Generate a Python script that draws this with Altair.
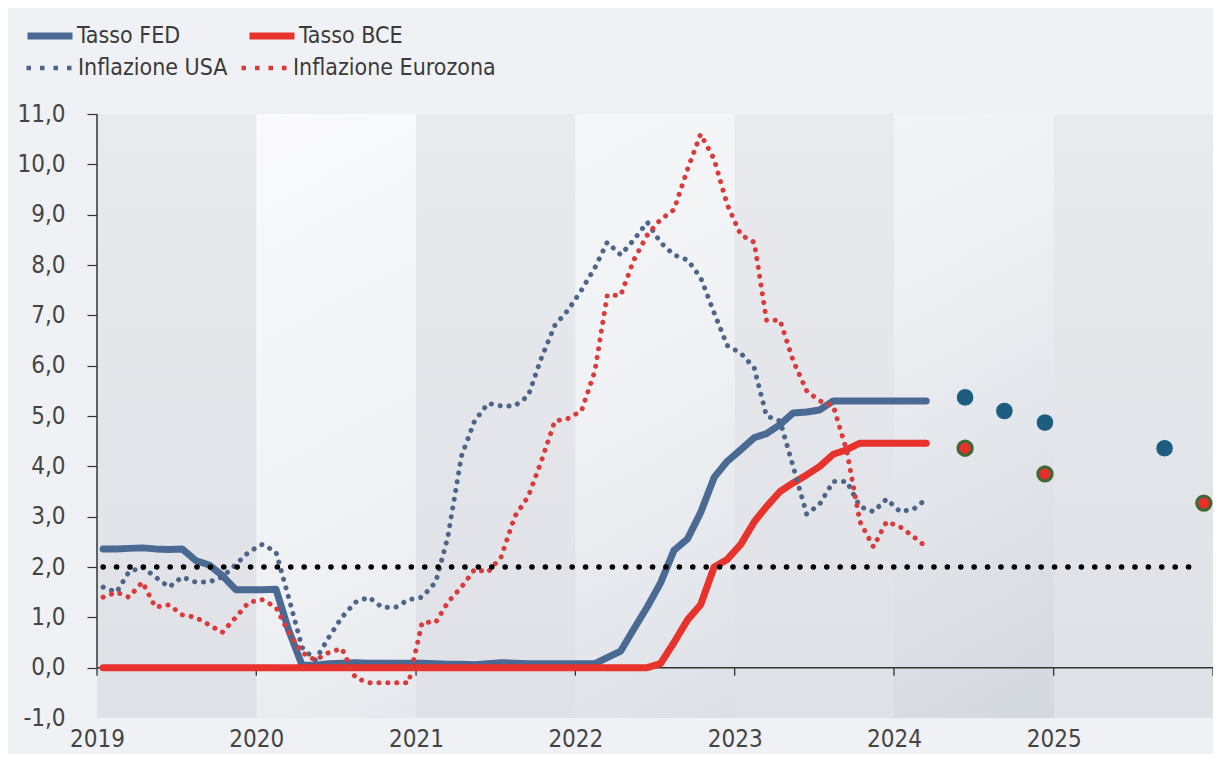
import altair as alt
import pandas as pd

FONT = "Liberation Sans Narrow, DejaVu Sans Condensed, Arial Narrow, sans-serif"

# ---------------- data (monthly, Jan 2019 - Mar 2024, plotted mid-month) ----------------
first_month = "2019-01-01"

fed_rate = [
    2.36, 2.36, 2.37, 2.38, 2.36, 2.35, 2.36, 2.13, 2.04, 1.83, 1.55, 1.55,
    1.55, 1.56, 0.75, 0.05, 0.05, 0.08, 0.09, 0.10, 0.09, 0.09, 0.09, 0.09,
    0.09, 0.08, 0.07, 0.07, 0.06, 0.08, 0.10, 0.09, 0.08, 0.08, 0.08, 0.08,
    0.08, 0.08, 0.20, 0.33, 0.77, 1.21, 1.68, 2.33, 2.56, 3.08, 3.78, 4.10,
    4.33, 4.57, 4.65, 4.83, 5.06, 5.08, 5.12, 5.30, 5.30, 5.30, 5.30, 5.30,
    5.30, 5.30, 5.30,
]
ecb_rate = [
    0.00, 0.00, 0.00, 0.00, 0.00, 0.00, 0.00, 0.00, 0.00, 0.00, 0.00, 0.00,
    0.00, 0.00, 0.00, 0.00, 0.00, 0.00, 0.00, 0.00, 0.00, 0.00, 0.00, 0.00,
    0.00, 0.00, 0.00, 0.00, 0.00, 0.00, 0.00, 0.00, 0.00, 0.00, 0.00, 0.00,
    0.00, 0.00, 0.00, 0.00, 0.00, 0.00, 0.08, 0.50, 0.95, 1.25, 2.00, 2.15,
    2.45, 2.90, 3.20, 3.50, 3.67, 3.83, 4.00, 4.24, 4.33, 4.46, 4.46, 4.46,
    4.46, 4.46, 4.46,
]
us_inflation = [
    1.60, 1.50, 1.90, 2.00, 1.80, 1.60, 1.80, 1.70, 1.70, 1.80, 2.05, 2.30,
    2.45, 2.30, 1.40, 0.40, 0.15, 0.60, 1.00, 1.30, 1.40, 1.20, 1.20, 1.35,
    1.40, 1.70, 2.60, 4.20, 4.90, 5.25, 5.20, 5.20, 5.40, 6.15, 6.80, 7.10,
    7.50, 7.95, 8.45, 8.20, 8.50, 8.85, 8.45, 8.20, 8.10, 7.75, 7.05, 6.40,
    6.25, 5.95, 5.00, 4.90, 4.00, 3.05, 3.25, 3.70, 3.70, 3.20, 3.10, 3.35,
    3.10, 3.15, 3.35,
]
ez_inflation = [
    1.40, 1.50, 1.40, 1.70, 1.20, 1.25, 1.05, 1.00, 0.85, 0.70, 1.00, 1.30,
    1.35, 1.20, 0.70, 0.30, 0.15, 0.30, 0.38, -0.20, -0.30, -0.30, -0.30, -0.30,
    0.90, 0.90, 1.30, 1.60, 1.95, 1.90, 2.20, 3.00, 3.40, 4.10, 4.90, 4.95,
    5.10, 5.90, 7.40, 7.40, 8.10, 8.60, 8.90, 9.10, 9.90, 10.60, 10.10, 9.20,
    8.60, 8.45, 6.90, 6.90, 6.10, 5.50, 5.30, 5.20, 4.30, 2.90, 2.40, 2.90,
    2.80, 2.60, 2.40,
]

# projections
fed_proj_dates = ["2024-06-12", "2024-09-10", "2024-12-12", "2025-09-12"]
fed_proj_values = [5.37, 5.10, 4.87, 4.36]
ecb_proj_dates = ["2024-06-12", "2024-12-12", "2025-12-11"]
ecb_proj_values = [4.36, 3.85, 3.27]

# inflation target line
target_value = [2.0]
target_start = ["2019-01-15"]
target_end = ["2025-11-25"]

# shaded years
band_starts = ["2019-01-01", "2021-01-01", "2023-01-01", "2025-01-01"]
band_ends = ["2020-01-01", "2022-01-01", "2024-01-01", "2026-01-01"]

year_labels = [2019, 2020, 2021, 2022, 2023, 2024, 2025]
year_ticks = ["2019-01-01", "2020-01-01", "2021-01-01", "2022-01-01", "2023-01-01",
              "2024-01-01", "2025-01-01", "2026-01-01"]
y_ticks = [-1, 0, 1, 2, 3, 4, 5, 6, 7, 8, 9, 10, 11]

rate_names = ["Tasso FED", "Tasso BCE"]
rate_colors = ["#4a6a93", "#e8322c"]
infl_names = ["Inflazione USA", "Inflazione Eurozona"]
infl_colors = ["#4d6588", "#db3a3b"]

# ---------------- tables ----------------
months = pd.date_range(start=first_month, periods=len(fed_rate), freq="MS") + pd.Timedelta(days=14)
dates = [d.strftime("%Y-%m-%d") for d in months]
df = pd.DataFrame({"date": dates, "fed": fed_rate, "ecb": ecb_rate,
                   "usa": us_inflation, "ez": ez_inflation})

df_frame = pd.DataFrame({"start": [year_ticks[0]], "end": [year_ticks[-1]],
                         "lo": [min(y_ticks)], "hi": [max(y_ticks)], "zero": [0.0]})
df_bands = pd.DataFrame({"start": band_starts, "end": band_ends})
df_ticks = pd.DataFrame({"d": year_ticks, "v": [0.0] * len(year_ticks)})
df_target = pd.DataFrame({"start": target_start, "end": target_end, "v": target_value})
df_fed_p = pd.DataFrame({"date": fed_proj_dates, "v": fed_proj_values})
df_ecb_p = pd.DataFrame({"date": ecb_proj_dates, "v": ecb_proj_values})
df_leg_rate = pd.DataFrame({"rate": rate_names, "date": [dates[0]] * 2,
                            "v": [fed_rate[0], ecb_rate[0]]})
df_leg_infl = pd.DataFrame({"infl": infl_names, "date": [dates[0]] * 2,
                            "v": [us_inflation[0], ez_inflation[0]]})

# ---------------- scales / axes ----------------
x_scale = alt.Scale(type="utc", domain=[alt.DateTime(year=2019, month=1, date=1, utc=True),
                                        alt.DateTime(year=2026, month=1, date=1, utc=True)])
y_scale = alt.Scale(domain=[min(y_ticks), max(y_ticks)], nice=False, zero=False)

x_axis = alt.Axis(
    values=[alt.DateTime(year=y, month=1, date=1, utc=True) for y in year_labels],
    format="%Y", domain=False, ticks=False, grid=False, labelFlush=False,
    labelOverlap=False, labelPadding=9, labelFontSize=24, labelFont=FONT,
    labelColor="#444444",
)
y_axis = alt.Axis(
    values=y_ticks,
    labelExpr="replace(replace(format(datum.value, '.1f'), '.', ','), '\u2212', '-')",
    domain=False, grid=False, tickSize=10, tickWidth=1.2,
    tickColor={"condition": {"test": "datum.value < 0", "value": "transparent"}, "value": "#333333"},
    labelPadding=22, labelFontSize=24, labelFont=FONT, labelColor="#444444",
    labelOverlap=False,
)


def X(field, **kw):
    return alt.X(field, scale=x_scale, axis=x_axis, title=None, **kw)


def Y(field, **kw):
    return alt.Y(field, scale=y_scale, axis=y_axis, title=None, **kw)


plot_bg = alt.LinearGradient(
    gradient="linear", x1=0, y1=0, x2=1, y2=1,
    stops=[alt.GradientStop(color="#fcfcfd", offset=0),
           alt.GradientStop(color="#eef0f3", offset=0.5),
           alt.GradientStop(color="#cfd3db", offset=1)],
)
band_fill = alt.LinearGradient(
    gradient="linear", x1=0, y1=0, x2=0, y2=1,
    stops=[alt.GradientStop(color="#e9eaee", offset=0),
           alt.GradientStop(color="#dfe1e6", offset=1)],
)

# ---------------- layers ----------------
bg = alt.Chart(df_frame).mark_rect(color=plot_bg).encode(
    x=X("start:T"), x2="end:T", y=Y("lo:Q"), y2="hi:Q",
)

bands = alt.Chart(df_bands).mark_rect(color=band_fill).encode(
    x=X("start:T"), x2="end:T",
)

zero_line = alt.Chart(df_frame).mark_rule(color="#333333", strokeWidth=1.5).encode(
    y=Y("zero:Q"),
)

y_line = alt.Chart(df_frame).mark_rule(color="#333333", strokeWidth=1.5).encode(
    x=X("start:T"), y=Y("zero:Q"), y2="hi:Q",
)

x_tick_marks = alt.Chart(df_ticks).mark_tick(
    orient="vertical", size=8, thickness=1.3, yOffset=4, color="#333333", opacity=1
).encode(x=X("d:T"), y=Y("v:Q"))


def solid(field, color):
    return alt.Chart(df).mark_line(
        color=color, strokeWidth=7, strokeCap="round", strokeJoin="round"
    ).encode(x=X("date:T"), y=Y(f"{field}:Q"))


def dotted(field, color):
    return alt.Chart(df).mark_line(
        color=color, strokeWidth=5, strokeDash=[0.1, 8.8], strokeCap="round", strokeJoin="round"
    ).encode(x=X("date:T"), y=Y(f"{field}:Q"))


fed_line = solid("fed", rate_colors[0])
ecb_line = solid("ecb", rate_colors[1])
us_line = dotted("usa", infl_colors[0])
ez_line = dotted("ez", infl_colors[1])

target = alt.Chart(df_target).mark_rule(
    color="#000000", strokeWidth=5.5, strokeDash=[0.1, 13.3], strokeCap="round"
).encode(x=X("start:T"), x2="end:T", y=Y("v:Q"))

fed_proj = alt.Chart(df_fed_p).mark_circle(
    size=310, color="#1d5d80", opacity=1, stroke="#e6ebf1", strokeWidth=1
).encode(x=X("date:T"), y=Y("v:Q"))

ecb_proj = alt.Chart(df_ecb_p).mark_circle(
    size=200, fill="#ea2f2a", stroke="#3f6a36", strokeWidth=3.2, opacity=1
).encode(x=X("date:T"), y=Y("v:Q"))

# legends: one row for the policy rates, one row for inflation
common_leg = dict(
    title=None, orient="none", direction="horizontal", symbolType="stroke",
    symbolSize=2025, labelFont=FONT, labelFontSize=23, labelColor="#3a3a3a",
    padding=0, labelLimit=400,
)
legend_rate = alt.Legend(legendX=-73, legendY=-104, columnPadding=54, labelOffset=1,
                         symbolStrokeWidth=7, **common_leg)
legend_infl = alt.Legend(legendX=-73, legendY=-71, columnPadding=4, labelOffset=4,
                         symbolStrokeWidth=4.5, symbolDash=[4.5, 9], **common_leg)

leg_rate_layer = alt.Chart(df_leg_rate).mark_line(strokeCap="butt", strokeWidth=7).encode(
    x=X("date:T"), y=Y("v:Q"),
    color=alt.Color("rate:N", scale=alt.Scale(domain=rate_names, range=rate_colors), legend=legend_rate),
)
leg_infl_layer = alt.Chart(df_leg_infl).mark_line(
    strokeCap="butt", strokeWidth=4.5, strokeDash=[4.5, 9]
).encode(
    x=X("date:T"), y=Y("v:Q"),
    color=alt.Color("infl:N", scale=alt.Scale(domain=infl_names, range=infl_colors), legend=legend_infl),
)

chart = alt.layer(
    bg, bands, zero_line, y_line, x_tick_marks,
    fed_line, ecb_line, us_line, ez_line, target,
    fed_proj, ecb_proj, leg_rate_layer, leg_infl_layer,
).resolve_scale(color="independent").properties(
    width=1116, height=604,
    padding={"left": 89, "top": 106, "right": 0, "bottom": 36},
    autosize=alt.AutoSizeParams(type="none"),
    background="#f0f1f4",
).configure_view(stroke="transparent")

chart.save("out.html", embed_options={"renderer": "svg", "actions": False})
